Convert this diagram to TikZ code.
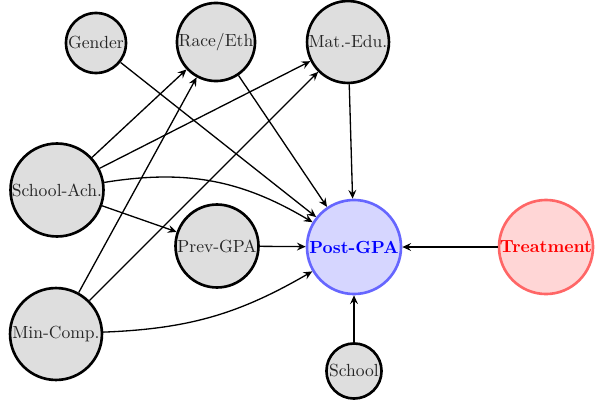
\documentclass[tikz,border=0pt]{standalone}
\usetikzlibrary{arrows.meta}
\begin{document}
\begin{tikzpicture}[x=0.57pt,y=-0.57pt,
  var/.style={circle,draw=black,line width=1.5pt,fill=black!13,inner sep=0pt,text=black!85},
  outc/.style={circle,draw=blue!60,line width=1.5pt,fill=blue!16,inner sep=0pt,text=blue,font=\bfseries},
  trt/.style={circle,draw=red!60,line width=1.5pt,fill=red!16,inner sep=0pt,text=red,font=\bfseries},
  edge/.style={-{Stealth[length=5pt,width=4.5pt,inset=1.8pt]},line width=0.75pt}]
\useasboundingbox (0,0) rectangle (597,400);
\node[var,minimum size=34.2pt] (gen) at (96,43) {Gender};
\node[var,minimum size=44.5pt] (race) at (216,42) {Race/Eth};
\node[var,minimum size=46.7pt] (mat) at (348,42) {Mat.-Edu.};
\node[var,minimum size=53pt] (sach) at (57,190) {School-Ach.};
\node[var,minimum size=47.3pt] (prev) at (217,246) {Prev-GPA};
\node[var,minimum size=52.4pt] (minc) at (56,334) {Min-Comp.};
\node[outc,minimum size=53.6pt] (post) at (354,247) {Post-GPA};
\node[trt,minimum size=53.6pt] (treat) at (546,247) {Treatment};
\node[var,minimum size=31.4pt] (sch) at (354,371) {School};
\draw[edge] (gen) -- (post);
\draw[edge] (race) -- (post);
\draw[edge] (mat) -- (post);
\draw[edge] (sach) -- (race);
\draw[edge] (sach) -- (mat);
\draw[edge] (sach) to[bend left=20] (post);
\draw[edge] (sach) -- (prev);
\draw[edge] (minc) -- (race);
\draw[edge] (minc) -- (mat);
\draw[edge] (minc) to[bend right=14] (post);
\draw[edge] (prev) -- (post);
\draw[edge] (treat) -- (post);
\draw[edge] (sch) -- (post);
\end{tikzpicture}
\end{document}
